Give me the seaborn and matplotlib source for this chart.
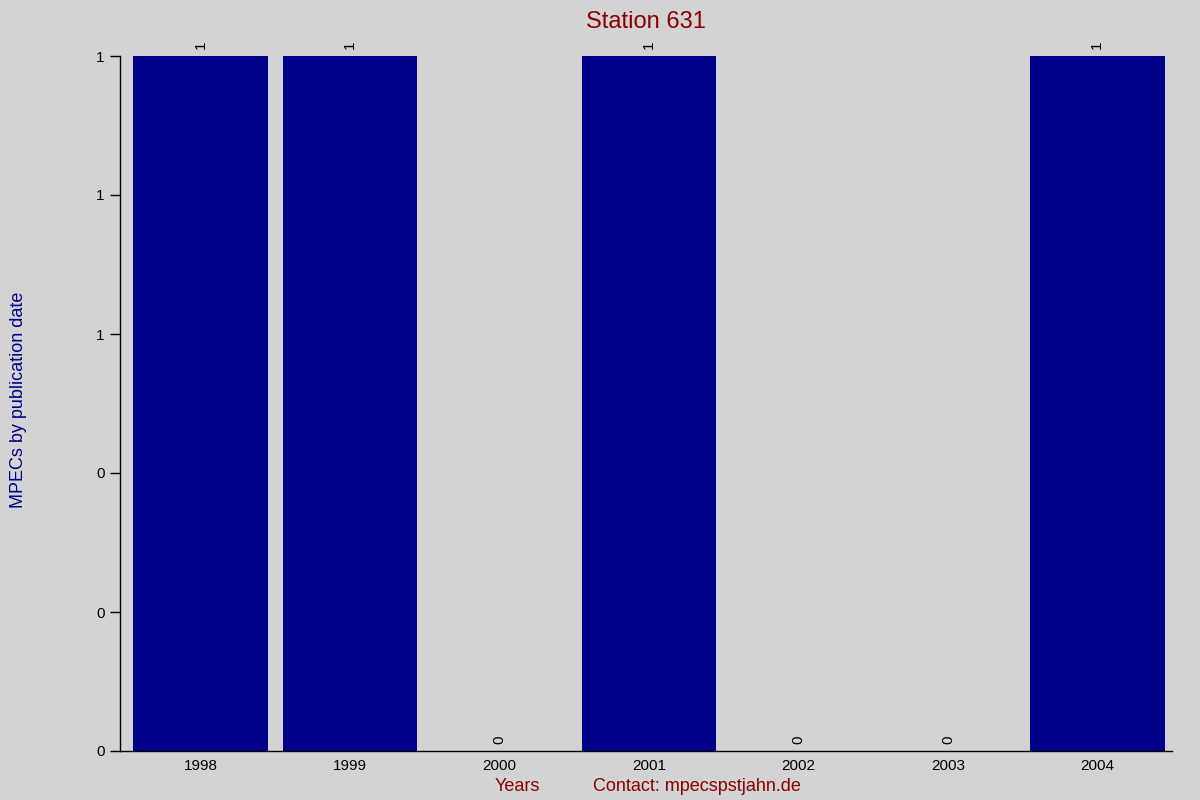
import matplotlib
matplotlib.use("Agg")
import matplotlib.pyplot as plt
import seaborn as sns
import pandas as pd
from matplotlib.ticker import FixedLocator, FuncFormatter

years = ["1998", "1999", "2000", "2001", "2002", "2003", "2004"]
counts = [1, 1, 0, 1, 0, 0, 1]

BG = "#D3D3D3"
BAR = "#00008B"
RED = "#8B0000"

sns.set_style("white")
plt.rcParams["font.family"] = ["Liberation Sans", "DejaVu Sans"]

df = pd.DataFrame({"year": years, "count": counts})

fig = plt.figure(figsize=(12, 8), dpi=100, facecolor=BG)
ax = fig.add_axes([0.1, 0.06125, 0.8767, 0.86875])
ax.set_facecolor(BG)

sns.barplot(data=df, x="year", y="count", color=BAR, width=0.9, saturation=1,
            edgecolor="none", linewidth=0, ax=ax)

for i, v in enumerate(counts):
    ax.annotate(str(v), (i, v), xytext=(0, 5), textcoords="offset points",
                rotation=90, ha="center", va="bottom", fontsize=11,
                color="black", annotation_clip=False)

ax.set_ylim(0, 1)
ax.set_xlim(-0.54, 6.5)
ax.yaxis.set_major_locator(FixedLocator([0, 0.2, 0.4, 0.6, 0.8, 1.0]))
ax.yaxis.set_major_formatter(FuncFormatter(lambda v, p: f"{v:.0f}"))
ax.tick_params(axis="y", left=True, length=7, width=1, colors="black",
               labelcolor="black", labelsize=11, pad=4)
ax.tick_params(axis="x", bottom=False, labelcolor="black", labelsize=11, pad=2)

for s in ["top", "right"]:
    ax.spines[s].set_visible(False)
for s in ["left", "bottom"]:
    ax.spines[s].set_color("black")
    ax.spines[s].set_linewidth(1)

ax.set_xlabel("")
ax.set_ylabel("")
ax.set_title("Station 631", color=RED, fontsize=17, pad=20)

fig.text(0.008, 0.5, "MPECs by publication date", rotation=90, color=BAR,
         fontsize=13, ha="left", va="center")
fig.text(0.431, 0.011, "Years", color=RED, fontsize=13, ha="center", va="baseline")
fig.text(0.581, 0.011, "Contact: mpecspstjahn.de", color=RED, fontsize=13,
         ha="center", va="baseline")

fig.savefig("out.png", dpi=100, facecolor=BG)
